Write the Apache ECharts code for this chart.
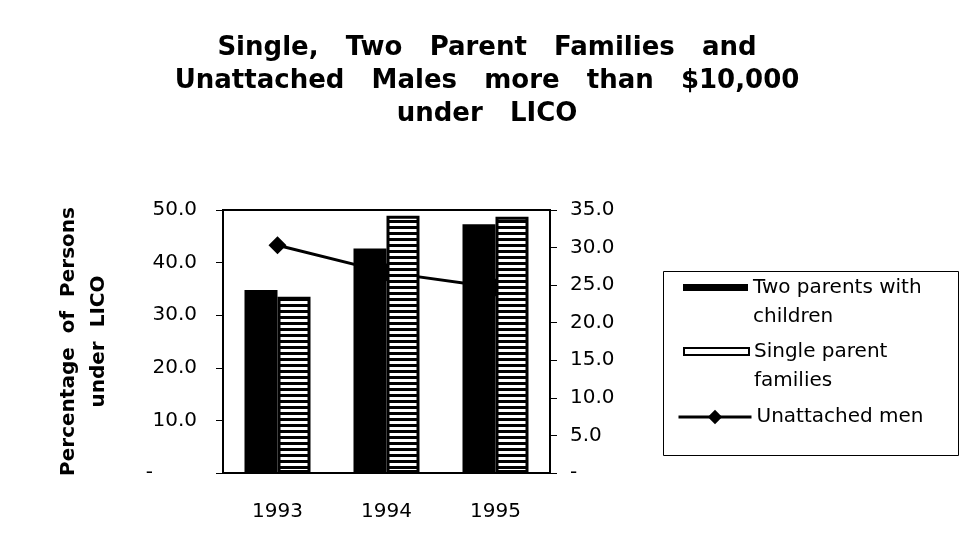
<!DOCTYPE html>
<html>
<head>
<meta charset="UTF-8">
<title>LICO chart</title>
<script type="text/javascript" src="https://cdn.jsdelivr.net/npm/echarts@6/dist/echarts.min.js"></script>
</head>
<body style="margin:0;background:#fff">
<div id="main" style="width:974px;height:552px;"></div>

<script type="text/javascript">
// data
var years = ['1993', '1994', '1995'];
var twoParents = [34.8, 42.7, 47.3];
var singleParent = [33.5, 48.9, 48.7];
var unattachedMen = [30.3, 26.7, 24.7];

var FONT = 'DejaVu Sans, Verdana, sans-serif';

// horizontal stripes for the single parent bars
var cv = document.createElement('canvas');
cv.width = 8; cv.height = 6;
var cx = cv.getContext('2d');
cx.fillStyle = '#000';
cx.fillRect(0, 0, 8, 6);
cx.fillStyle = '#fff';
cx.fillRect(0, 1, 8, 3);

var mychart = echarts.init(document.getElementById('main'));

// zero is shown as a dash, pushed left on the left axis
function fmtLeft(v) { return v === 0 ? '{z|-}' : v.toFixed(1); }
function fmtRight(v) { return v === 0 ? '-' : v.toFixed(1); }

// an empty first line keeps the icon level with the first text line
var legText = { fontFamily: FONT, fontSize: 20, color: '#000', lineHeight: 29 };
function legFmt(n) { return '\n' + n; }

var option = {
    backgroundColor: '#fff',
    animation: false,
    title: {
        text: 'Single,   Two   Parent   Families   and\nUnattached   Males   more   than   $10,000\nunder   LICO',
        left: 'center',
        top: 27,
        textStyle: { fontFamily: FONT, fontSize: 26, fontWeight: 'bold', lineHeight: 33, color: '#000' }
    },
    graphic: [{
        type: 'rect',
        shape: { x: 663.5, y: 271.5, width: 295, height: 184 },
        style: { fill: null, stroke: '#000', lineWidth: 1 }
    }],
    legend: [{
        left: 683, top: 244, padding: 0,
        itemWidth: 65, itemHeight: 7,
        textStyle: legText,
        formatter: legFmt,
        data: [{ name: 'Two parents with\nchildren', icon: 'rect', itemStyle: { color: '#000' } }]
    }, {
        left: 683, top: 308, padding: 0,
        itemWidth: 65, itemHeight: 7,
        textStyle: legText,
        formatter: legFmt,
        data: [{ name: 'Single parent\nfamilies', icon: 'rect', itemStyle: { color: '#fff', borderColor: '#000', borderWidth: 2 } }]
    }, {
        left: 677, top: 403, padding: 0,
        itemWidth: 73, itemHeight: 18,
        textStyle: { fontFamily: FONT, fontSize: 20, color: '#000', lineHeight: 28 },
        data: [{ name: 'Unattached men', lineStyle: { width: 3, color: '#000' } }]
    }],
    grid: {
        left: 223, right: 424, top: 210, bottom: 79,
        show: true, borderColor: '#000', borderWidth: 2
    },
    xAxis: {
        type: 'category',
        data: years,
        axisLine: { lineStyle: { color: '#000', width: 2 } },
        axisTick: { lineStyle: { color: '#000' }, length: 5 },
        axisLabel: { fontFamily: FONT, fontSize: 20, color: '#000', margin: 29 }
    },
    yAxis: [{
        type: 'value', min: 0, max: 50, interval: 10,
        name: 'Percentage  of  Persons\nunder  LICO',
        nameLocation: 'middle', nameGap: 109, nameRotate: 90,
        nameTextStyle: { fontFamily: FONT, fontSize: 20, fontWeight: 'bold', color: '#000', lineHeight: 30 },
        splitLine: { show: false },
        axisLine: { show: true, lineStyle: { color: '#000', width: 2 } },
        axisTick: { show: true, length: 7, lineStyle: { color: '#000' } },
        axisLabel: {
            fontFamily: FONT, fontSize: 20, color: '#000', margin: 26, formatter: fmtLeft,
            rich: { z: { fontFamily: FONT, fontSize: 20, color: '#000', padding: [0, 44, 0, 0] } }
        }
    }, {
        type: 'value', min: 0, max: 35, interval: 5,
        splitLine: { show: false },
        axisLine: { show: true, lineStyle: { color: '#000', width: 2 } },
        axisTick: { show: true, length: 7, lineStyle: { color: '#000' } },
        axisLabel: { fontFamily: FONT, fontSize: 20, color: '#000', margin: 20, formatter: fmtRight }
    }],
    series: [{
        name: 'Two parents with\nchildren',
        type: 'bar',
        data: twoParents,
        barWidth: 33,
        barGap: '0%',
        z: 3,
        itemStyle: { color: '#000' }
    }, {
        name: 'Single parent\nfamilies',
        type: 'bar',
        data: singleParent,
        barWidth: 33,
        z: 3,
        itemStyle: { color: { image: cv, repeat: 'repeat' }, borderColor: '#000', borderWidth: 3 }
    }, {
        name: 'Unattached men',
        type: 'line',
        yAxisIndex: 1,
        data: unattachedMen,
        z: 2,
        symbol: 'diamond',
        symbolSize: 18,
        lineStyle: { color: '#000', width: 3 },
        itemStyle: { color: '#000' }
    }]
};

mychart.setOption(option);
</script>
</body>
</html>
